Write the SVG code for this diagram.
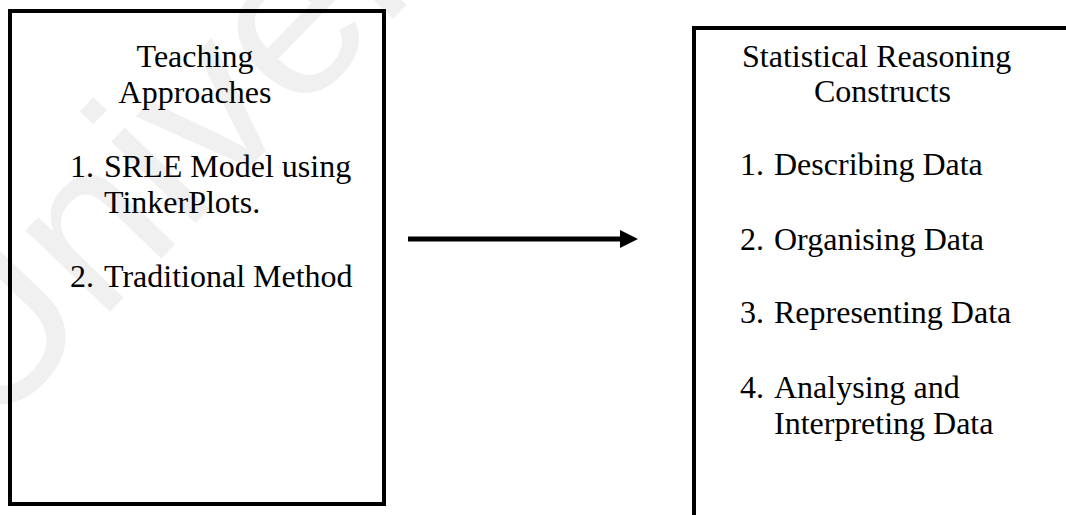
<svg xmlns="http://www.w3.org/2000/svg" width="1066" height="515" viewBox="0 0 1066 515">
  <style>
    .box { fill: none; stroke: #000; stroke-width: 4; }
    .t { font-family: "Liberation Serif", "Times New Roman", serif; font-size: 32px; fill: #000; }
    .wm { font-family: "Liberation Sans", Arial, sans-serif; font-size: 222px; fill: #f0f0f0; }
    .conn { stroke: #000; stroke-width: 5; fill: none; }
  </style>
  <defs>
    <marker id="arrowhead" markerUnits="userSpaceOnUse" markerWidth="20" markerHeight="20" refX="0" refY="9" orient="auto">
      <polygon points="0,0 18,9 0,18" fill="#000"/>
    </marker>
  </defs>
  <rect width="1066" height="515" fill="#fff"/>
  <text class="wm" x="-12" y="438" transform="rotate(-46 -12 438)">Univer</text>

  <g id="node-teaching">
    <rect class="box" x="10" y="11" width="374" height="493"/>
    <text class="t" x="195" y="67" text-anchor="middle">Teaching</text>
    <text class="t" x="195" y="102.5" text-anchor="middle">Approaches</text>
    <text class="t" y="177"><tspan x="70">1. </tspan><tspan x="104">SRLE Model using</tspan></text>
    <text class="t" x="104" y="213">TinkerPlots.</text>
    <text class="t" y="287"><tspan x="70">2. </tspan><tspan x="104">Traditional Method</tspan></text>
  </g>

  <g id="node-constructs">
    <rect class="box" x="694" y="28" width="420" height="520"/>
    <text class="t" x="742" y="67">Statistical Reasoning</text>
    <text class="t" x="814" y="102">Constructs</text>
    <text class="t" y="175"><tspan x="740">1. </tspan><tspan x="774">Describing Data</tspan></text>
    <text class="t" y="249.5"><tspan x="740">2. </tspan><tspan x="774">Organising Data</tspan></text>
    <text class="t" y="323"><tspan x="740">3. </tspan><tspan x="774">Representing Data</tspan></text>
    <text class="t" y="397.5"><tspan x="740">4. </tspan><tspan x="774">Analysing and</tspan></text>
    <text class="t" x="774" y="434">Interpreting Data</text>
  </g>

  <g id="connectors">
    <line class="conn" x1="408" y1="239" x2="620" y2="239" marker-end="url(#arrowhead)"/>
  </g>
</svg>
